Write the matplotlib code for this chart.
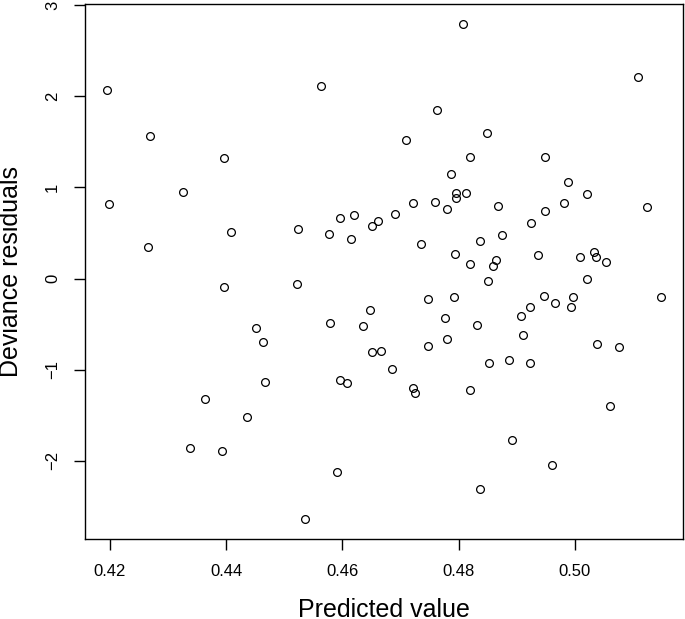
import matplotlib
matplotlib.use('Agg')
import matplotlib.pyplot as plt

plt.rcParams['font.family'] = ['Liberation Sans', 'DejaVu Sans']

# valores preditos (eixo x) e residuos deviance (eixo y)
predito = [0.4195, 0.4269, 0.4396, 0.4325, 0.4199, 0.4808, 0.4563, 0.4763, 0.4709, 0.4820,
           0.5109, 0.4848, 0.4949, 0.4988, 0.5021, 0.4981, 0.5124, 0.4867, 0.4949, 0.4813,
           0.4787, 0.4795, 0.4795, 0.4722, 0.4760, 0.4780, 0.4409, 0.4524, 0.4595, 0.4619,
           0.4576, 0.4615, 0.4650, 0.4662, 0.4690, 0.4736, 0.4793, 0.4819, 0.4522, 0.4748,
           0.4792, 0.4647, 0.4776, 0.4451, 0.4579, 0.4635, 0.4780, 0.4463, 0.4748, 0.4651,
           0.4666, 0.4686, 0.4467, 0.4595, 0.4607, 0.4721, 0.4724, 0.4820, 0.4925, 0.4875,
           0.4836, 0.4937, 0.4864, 0.4859, 0.5009, 0.5032, 0.5037, 0.5053, 0.5021, 0.4851,
           0.5148, 0.4947, 0.4965, 0.4997, 0.4994, 0.4923, 0.4907, 0.4832, 0.4910, 0.5038,
           0.5076, 0.4852, 0.4887, 0.4922, 0.5060, 0.4265, 0.4397, 0.4364, 0.4337, 0.4392,
           0.4435, 0.4591, 0.4536, 0.4891, 0.4961, 0.4836]
residuos = [2.062, 1.566, 1.325, 0.945, 0.818, 2.793, 2.110, 1.851, 1.518, 1.336,
            2.208, 1.595, 1.336, 1.062, 0.927, 0.828, 0.780, 0.800, 0.745, 0.933,
            1.146, 0.938, 0.887, 0.825, 0.838, 0.762, 0.515, 0.540, 0.668, 0.701,
            0.493, 0.430, 0.576, 0.628, 0.704, 0.379, 0.269, 0.162, -0.055, -0.227,
            -0.208, -0.344, -0.435, -0.548, -0.490, -0.522, -0.661, -0.694, -0.742, -0.811,
            -0.793, -0.990, -1.132, -1.114, -1.147, -1.200, -1.260, -1.220, 0.606, 0.478,
            0.412, 0.255, 0.208, 0.138, 0.237, 0.296, 0.237, 0.182, -0.004, -0.022,
            -0.208, -0.197, -0.267, -0.201, -0.311, -0.318, -0.416, -0.515, -0.624, -0.723,
            -0.752, -0.931, -0.895, -0.924, -1.399, 0.343, -0.092, -1.325, -1.855, -1.895,
            -1.522, -2.118, -2.640, -1.771, -2.048, -2.308]

x_ticks = [0.42, 0.44, 0.46, 0.48, 0.50]
x_rotulos = ['0.42', '0.44', '0.46', '0.48', '0.50']
y_ticks = [-2, -1, 0, 1, 2, 3]

fig = plt.figure(figsize=(6.85, 6.19), dpi=100)
ax = fig.add_axes([0.1241, 0.1292, 0.8730, 0.8643])

ax.plot(predito, residuos, linestyle='none', marker='o', markersize=5.6,
        markerfacecolor='none', markeredgecolor='black', markeredgewidth=0.9)

ax.set_xlim(0.4157, 0.5186)
ax.set_ylim(-2.857, 3.01)

ax.set_xticks(x_ticks)
ax.set_xticklabels(x_rotulos)
ax.set_yticks(y_ticks)
ax.set_yticklabels([str(v).replace('-', '\u2212') for v in y_ticks], rotation=90, va='center')
ax.tick_params(axis='both', direction='out', length=8, width=1, labelsize=12, pad=10)

for s in ax.spines.values():
    s.set_linewidth(1)

ax.set_xlabel('Predicted value', fontsize=18)
ax.set_ylabel('Deviance residuals', fontsize=18)
ax.xaxis.set_label_coords(0.5, -0.11)
ax.yaxis.set_label_coords(-0.103, 0.5)

fig.savefig('out.png', dpi=100)
